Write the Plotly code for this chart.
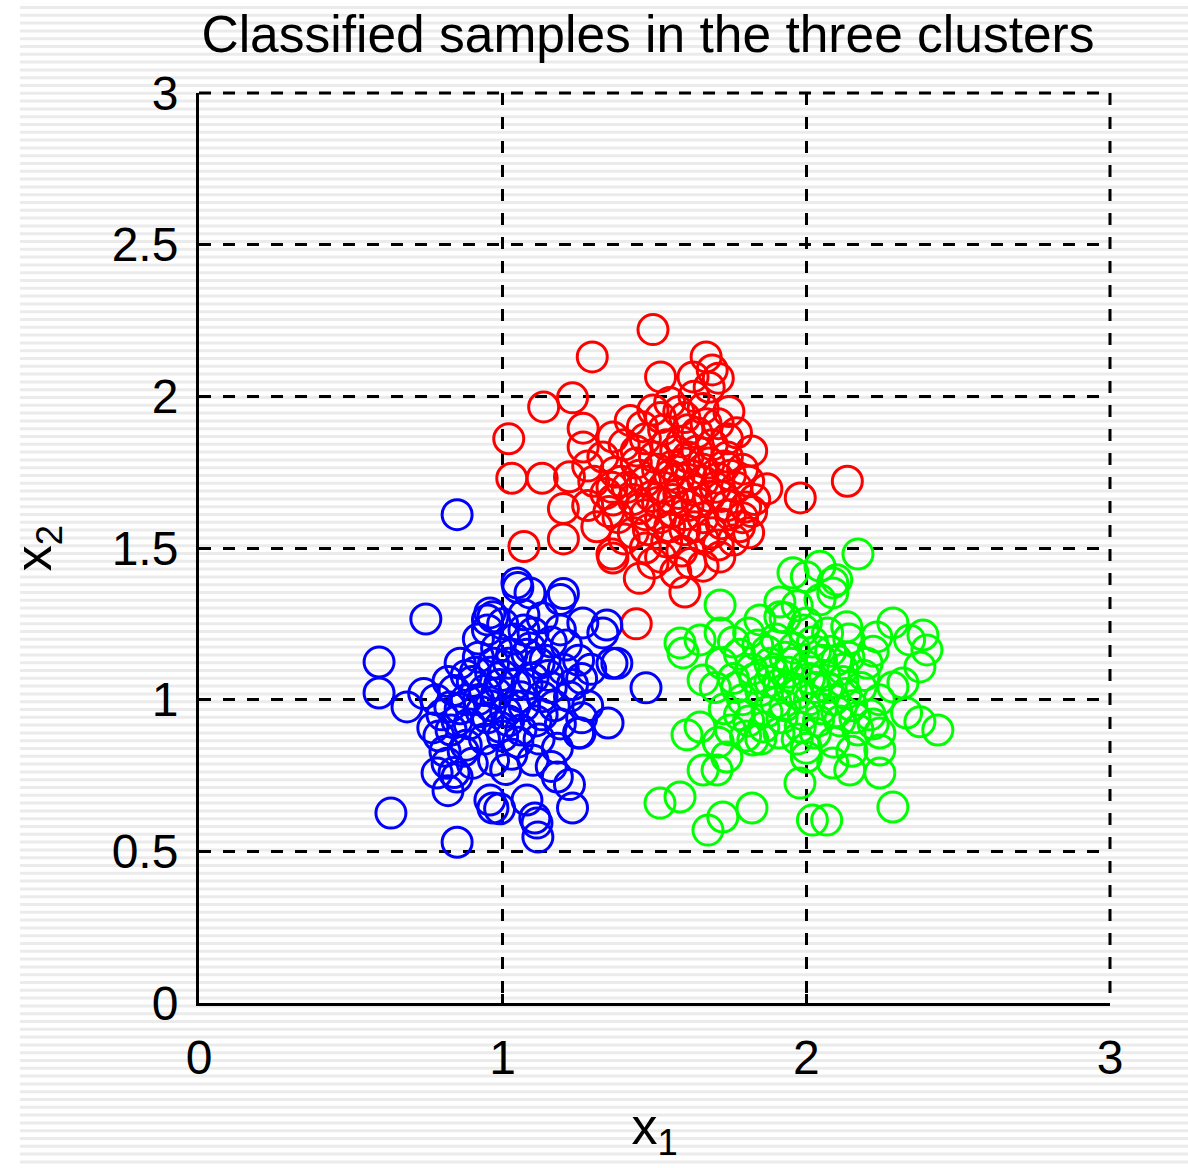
import plotly.graph_objects as go

# ---------------- data ----------------
red_x = [1.495, 1.295, 1.67, 1.135, 1.23, 1.02, 1.265, 1.03, 1.13, 1.22, 1.07, 1.87, 1.98, 2.135, 1.82, 1.745,
         1.60, 1.44, 1.45, 1.20, 1.20, 1.36, 1.265, 1.363, 1.363, 1.43, 1.80, 1.81, 1.715, 1.62, 1.363, 1.495,
         1.76, 1.68, 1.52, 1.495, 1.627, 1.69, 1.71,
         1.42, 1.55, 1.60, 1.66, 1.71, 1.77,
         1.33, 1.40, 1.47, 1.53, 1.59, 1.64, 1.69, 1.74, 1.79,
         1.30, 1.37, 1.44, 1.50, 1.56, 1.61, 1.66, 1.71, 1.77, 1.83,
         1.28, 1.34, 1.41, 1.47, 1.53, 1.58, 1.63, 1.68, 1.74, 1.79,
         1.31, 1.38, 1.45, 1.51, 1.56, 1.61, 1.66, 1.72, 1.78,
         1.40, 1.48, 1.54, 1.60, 1.66, 1.71, 1.52, 1.57, 1.66,
         1.58, 1.62, 1.55, 1.68, 1.64, 1.57, 1.49, 1.70, 1.52,
         1.75, 1.45, 1.60, 1.35, 1.28,
         1.46, 1.52, 1.58, 1.63, 1.74, 1.81, 1.43, 1.39, 1.47, 1.55, 1.63, 1.69, 1.75, 1.82,
         1.59, 1.47, 1.51, 1.60, 1.66, 1.72, 1.54, 1.61, 1.67, 1.44, 1.36, 1.73, 1.56, 1.64]
red_y = [2.22, 2.13, 2.13, 1.965, 1.995, 1.86, 1.895, 1.73, 1.73, 1.735, 1.505, 1.695, 1.665, 1.72, 1.82, 1.95,
         1.355, 1.25, 1.40, 1.63, 1.53, 1.48, 1.833, 1.866, 1.658, 1.55, 1.635, 1.55, 1.47, 1.45, 1.467, 1.45,
         1.526, 2.03, 2.064, 1.955, 2.064, 2.087, 2.06,
         1.92, 1.98, 1.93, 1.96, 1.91, 1.88,
         1.80, 1.84, 1.86, 1.89, 1.85, 1.88, 1.84, 1.80, 1.76,
         1.72, 1.75, 1.78, 1.80, 1.77, 1.80, 1.76, 1.73, 1.70, 1.66,
         1.64, 1.68, 1.70, 1.72, 1.70, 1.73, 1.69, 1.67, 1.64, 1.60,
         1.57, 1.60, 1.63, 1.65, 1.62, 1.64, 1.60, 1.58, 1.57,
         1.53, 1.56, 1.52, 1.56, 1.53, 1.51, 1.47, 1.42, 1.44,
         1.68, 1.74, 1.74, 1.78, 1.82, 1.82, 1.67, 1.70, 1.60,
         1.74, 1.74, 1.61, 1.62, 1.77,
         1.90, 1.93, 1.95, 2.00, 1.86, 1.72, 1.66, 1.72, 1.61, 1.57, 1.57, 1.55, 1.61, 1.62,
         1.49, 1.50, 1.76, 1.78, 1.72, 1.67, 1.84, 1.89, 1.91, 1.82, 1.70, 1.77, 1.66, 1.65]

blue_x = [0.747, 0.593, 0.593, 0.685, 0.632, 0.85, 1.472, 1.347, 1.343, 1.20, 1.116, 1.106, 0.968, 1.23, 0.817,
          1.047, 0.958, 0.85, 1.19, 1.05, 1.36, 1.33, 1.25, 1.22, 0.82, 0.84, 0.81, 0.99,
          0.968, 1.376, 1.255, 0.77, 0.826, 0.784, 0.85, 0.958, 1.08, 1.113, 1.18, 1.09, 1.264, 0.95,
          0.78, 0.84, 0.90, 0.96, 1.02, 1.08, 1.14, 1.20, 1.26,
          0.80, 0.86, 0.92, 0.98, 1.04, 1.10, 1.16, 1.22, 1.28,
          0.83, 0.89, 0.95, 1.01, 1.07, 1.13, 1.19, 1.25,
          0.88, 0.94, 1.00, 1.06, 1.12, 1.18,
          0.92, 0.98, 1.04, 1.10, 1.16, 0.86, 1.00, 1.07, 1.13,
          0.97, 1.03, 1.10, 1.16, 0.90,
          0.94, 1.00, 1.06, 1.02, 0.96, 1.12, 0.88, 1.08, 0.74, 1.21, 0.92,
          0.82, 0.88, 0.93, 0.99, 1.05, 1.11, 1.17, 1.23, 1.29, 1.15, 1.09, 1.03, 0.97, 0.91,
          0.85, 0.79, 1.04, 0.99, 1.13, 1.07, 0.95, 1.19, 1.26, 0.87, 1.01]
blue_y = [1.266, 1.124, 1.022, 0.976, 0.626, 0.53, 1.039, 0.923, 1.246, 1.35, 0.547, 0.61, 0.643, 0.643, 0.79,
          1.385, 1.286, 1.61, 1.33, 1.37, 1.12, 1.22, 1.13, 0.72, 0.70, 0.76, 0.83, 0.64,
          1.273, 1.12, 0.89, 0.907, 0.976, 0.758, 0.745, 0.669, 0.669, 0.593, 0.745, 1.352, 1.253, 1.263,
          1.00, 1.03, 1.06, 1.09, 1.12, 1.15, 1.13, 1.10, 1.07,
          0.95, 0.97, 1.00, 1.02, 1.05, 1.07, 1.04, 1.01, 0.98,
          0.90, 0.92, 0.94, 0.96, 0.98, 0.95, 0.92, 0.89,
          0.85, 0.87, 0.88, 0.90, 0.87, 0.84,
          1.14, 1.17, 1.20, 1.22, 1.19, 1.12, 1.25, 1.28, 1.27,
          0.80, 0.82, 0.80, 0.78, 0.79,
          1.03, 1.08, 1.01, 0.93, 0.98, 1.12, 1.08, 1.05, 1.02, 1.18, 1.20,
          1.06, 1.00, 0.96, 0.91, 0.86, 0.93, 0.98, 1.05, 1.10, 1.08, 1.17, 1.15, 1.12, 1.09,
          0.93, 0.88, 0.98, 1.05, 1.01, 1.23, 1.23, 1.23, 0.94, 0.83, 0.77]

green_x = [2.17, 1.956, 2.045, 2.285, 2.384, 2.397, 1.584, 1.607, 1.716, 2.433, 2.374, 2.285, 1.979, 2.02, 2.067,
           1.518, 1.584, 1.676, 1.725, 1.821, 1.706, 1.66, 2.242, 2.285, 2.087, 1.913,
           2.00, 2.087, 2.34, 2.374, 2.318, 2.33, 2.242, 2.242, 2.143, 2.087, 2.00, 1.824, 1.738, 1.65, 1.66,
           1.594, 1.65, 1.716, 1.847, 1.913, 2.00, 2.133, 2.232, 2.045, 2.10,
           1.72, 1.78, 1.84, 1.90, 1.96, 2.02, 2.08, 2.14, 2.20,
           1.70, 1.76, 1.82, 1.88, 1.94, 2.00, 2.06, 2.12, 2.18, 2.24,
           1.73, 1.79, 1.85, 1.91, 1.97, 2.03, 2.09, 2.15, 2.21,
           1.75, 1.81, 1.87, 1.93, 1.99, 2.05, 2.11, 2.17,
           1.85, 1.91, 1.97, 2.03, 2.09, 2.15,
           1.95, 1.90, 2.01, 1.88, 2.05, 1.99, 1.93, 2.07, 1.81, 2.12, 1.78, 2.22,
           1.77, 1.83, 1.89, 1.95, 2.01, 2.07, 2.13, 2.19, 1.80, 1.86, 1.92, 1.98, 2.04, 2.10,
           2.16, 2.22, 1.87, 1.93, 2.03, 2.10, 1.97, 2.14, 1.76, 1.71, 2.00]
green_y = [1.48, 1.418, 1.44, 1.253, 1.213, 1.164, 1.187, 0.884, 1.312, 0.90, 0.927, 0.646, 0.725, 0.603, 0.603,
           0.659, 0.679, 0.57, 0.613, 0.643, 0.768, 0.768, 0.758, 1.042, 1.385, 1.322,
           1.405, 1.352, 1.197, 1.108, 1.055, 0.956, 0.834, 0.89, 0.768, 0.791, 0.811, 0.867, 0.811, 0.91, 1.065,
           1.154, 1.197, 1.22, 1.263, 1.273, 1.253, 1.24, 1.207, 1.329, 1.395,
           1.12, 1.15, 1.18, 1.20, 1.17, 1.19, 1.16, 1.14, 1.12,
           1.04, 1.07, 1.10, 1.12, 1.09, 1.11, 1.08, 1.06, 1.04, 1.00,
           0.97, 1.00, 1.03, 1.05, 1.02, 1.04, 1.00, 0.98, 0.95,
           0.90, 0.93, 0.96, 0.98, 0.95, 0.97, 0.93, 0.90,
           0.87, 0.89, 0.87, 0.89, 0.86, 0.83,
           1.04, 0.99, 1.00, 1.06, 1.13, 1.23, 1.27, 1.22, 1.22, 1.10, 0.95, 1.16,
           1.04, 1.07, 1.09, 1.12, 1.07, 1.04, 1.02, 1.08, 0.88, 0.91, 0.94, 0.91, 0.93, 0.96,
           0.94, 0.92, 1.16, 1.14, 1.16, 1.13, 1.31, 1.20, 1.19, 0.86, 0.84]

x_ticks = [0, 1, 2, 3]
y_ticks = [0, 0.5, 1, 1.5, 2, 2.5, 3]

# ---------------- figure ----------------
W, H = 1188, 1168
L, R, T, B = 199, 78, 93, 165
pw, ph = W - L - R, H - T - B

fig = go.Figure()
for xs, ys, col in [(red_x, red_y, "#ff0000"), (blue_x, blue_y, "#0000ff"), (green_x, green_y, "#00ff00")]:
    fig.add_trace(go.Scatter(
        x=xs, y=ys, mode="markers",
        marker=dict(symbol="circle-open", size=30, color=col, line=dict(width=3, color=col)),
        showlegend=False, hoverinfo="skip"))

# light horizontal scan-line stripes of the background
def px2paper_x(px):
    return (px - L) / pw

def px2paper_y(py):
    return (H - B - py) / ph

parts = []
xa, xb = px2paper_x(20), px2paper_x(W + 2)
for i in range(149):
    y0 = 6 + 7.8 * i
    y1 = y0 + 3
    ya, yb = px2paper_y(y0), px2paper_y(y1)
    parts.append(f"M{xa:.5f},{ya:.5f} L{xb:.5f},{ya:.5f} L{xb:.5f},{yb:.5f} L{xa:.5f},{yb:.5f} Z")
fig.add_shape(type="path", path=" ".join(parts), xref="paper", yref="paper",
              fillcolor="#ebebeb", line=dict(width=0), layer="below")

# dashed grid lines on the top and right edges of the plot area (x = 3, y = 3)
grid_dash = "12px,12px"
fig.add_shape(type="line", xref="paper", yref="paper", x0=1, x1=1, y0=1, y1=0,
              line=dict(color="black", width=3, dash=grid_dash), layer="above")
fig.add_shape(type="line", xref="paper", yref="paper", x0=0, x1=1, y0=1, y1=1,
              line=dict(color="black", width=3, dash=grid_dash), layer="above")

font_family = "Liberation Sans, Arial, sans-serif"
axis_common = dict(
    showline=True, linecolor="black", linewidth=3, mirror=False,
    showgrid=True, gridcolor="black", gridwidth=3, griddash=grid_dash,
    zeroline=False, ticks="inside", ticklen=9, tickwidth=3, tickcolor="black",
    tickfont=dict(family=font_family, size=48, color="black"),
)
fig.update_xaxes(range=[0, 3], tickvals=x_ticks, ticktext=[str(v) for v in x_ticks],
                 title=dict(text="x<sub>1</sub>", font=dict(family=font_family, size=52, color="black"),
                            standoff=26),
                 ticklabelstandoff=10, **axis_common)
fig.update_yaxes(range=[0, 3], tickvals=y_ticks, ticktext=[f"{v:g}" for v in y_ticks],
                 title=dict(text="x<sub>2</sub>", font=dict(family=font_family, size=52, color="black"),
                            standoff=44),
                 ticklabelstandoff=8, **axis_common)

fig.update_layout(
    width=W, height=H,
    margin=dict(l=L, r=R, t=T, b=B, autoexpand=False),
    paper_bgcolor="white", plot_bgcolor="rgba(0,0,0,0)",
    title=dict(text="Classified samples in the three clusters",
               font=dict(family=font_family, size=51.5, color="black"),
               x=(648) / W, xanchor="center", y=1 - 34 / H, yanchor="middle", xref="container", yref="container"),
    showlegend=False,
)

fig.write_html("out.html")
